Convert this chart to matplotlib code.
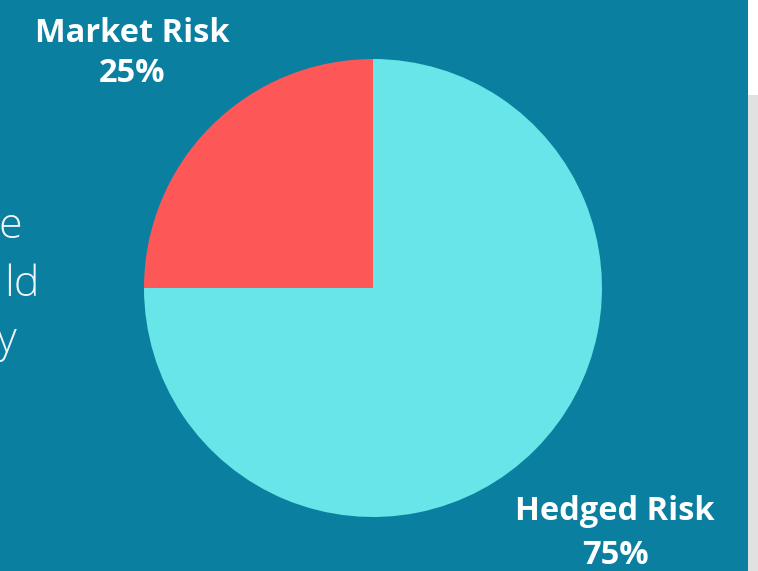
import matplotlib.pyplot as plt
from matplotlib.patches import Rectangle

labels = ["Market Risk", "Hedged Risk"]
shares = [25, 75]
colors = ["#fd5757", "#68e5e8"]
side_text = ["e", "ld", "y"]

bg = "#0a7fa0"
W, H = 758, 571

fig = plt.figure(figsize=(W / 100, H / 100), dpi=100)
fig.patch.set_facecolor(bg)

# right side strips (page beyond the panel)
fig.patches.append(Rectangle((748 / W, 0), 10 / W, 1, transform=fig.transFigure,
                             facecolor="#e1e1e1", edgecolor="none", zorder=0))
fig.patches.append(Rectangle((748 / W, 1 - 95 / H), 10 / W, 95 / H, transform=fig.transFigure,
                             facecolor="white", edgecolor="none", zorder=0))

# cut-off paragraph on the left
for t, xr, base in zip(side_text, [22, 40, 17], [238, 296, 352]):
    fig.text(xr / W, 1 - base / H, t, ha="right", va="baseline",
             fontsize=31, color="#f2f6f8", family="Open Sans", fontweight="light")

cx, cy, r = 373, 288, 229
ax = fig.add_axes([(cx - r) / W, (H - cy - r) / H, 2 * r / W, 2 * r / H])
ax.pie(shares, colors=colors, startangle=90, counterclock=True,
       wedgeprops=dict(linewidth=0))
ax.set_xlim(-1, 1)
ax.set_ylim(-1, 1)
ax.axis("off")

label_pos = [(132, 33, 74), (615, 511, 556)]
for lab, s, (x, y1, y2) in zip(labels, shares, label_pos):
    fig.text(x / W, 1 - y1 / H, lab, ha="center", va="center", fontsize=23.5,
             fontweight="bold", color="white", family="Open Sans")
    fig.text(x / W, 1 - y2 / H, f"{s}%", ha="center", va="center", fontsize=23.5,
             fontweight="bold", color="white", family="Open Sans")

fig.savefig("out.png", dpi=100, facecolor=fig.get_facecolor())
